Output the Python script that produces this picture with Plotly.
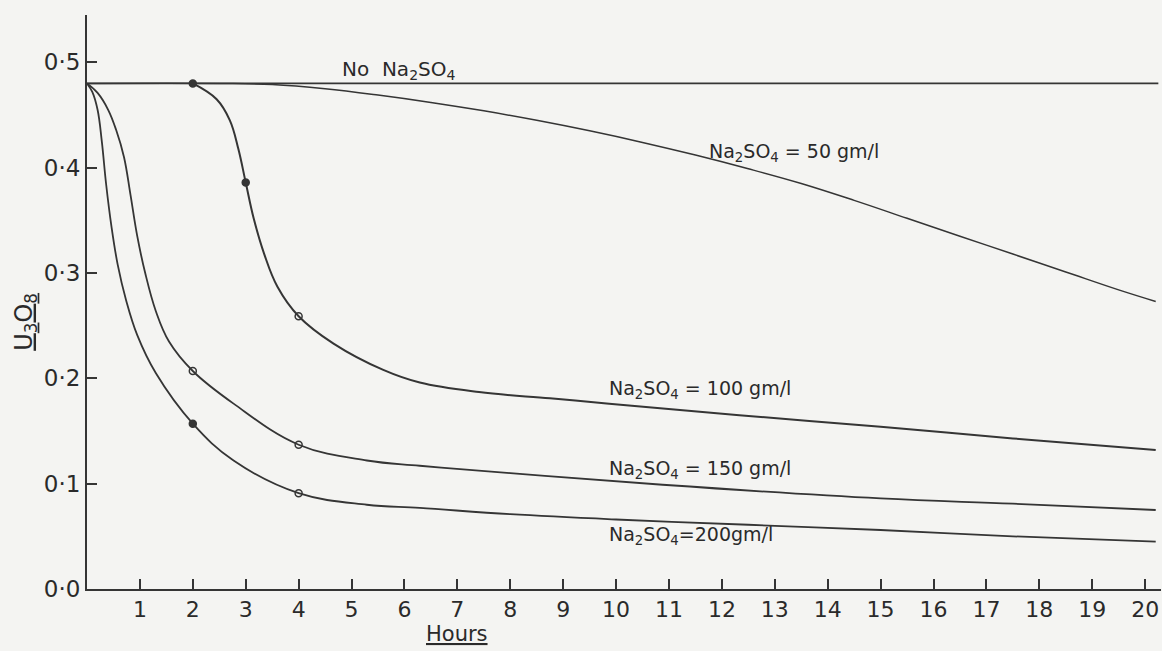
import plotly.graph_objects as go

# ---- data ----
hours_none = [0, 20.25]
u3o8_none = [0.48, 0.48]

hours_50 = [0, 2.5, 3.5, 4.5, 5.5, 6.5, 7.5, 8.5, 9.5, 10.5, 11.5, 12.5, 13.5, 14.5, 15.5, 16.5, 17.5, 18.5, 19.5, 20.2]
u3o8_50 = [0.48, 0.48, 0.479, 0.475, 0.469, 0.462, 0.454, 0.445, 0.435, 0.424, 0.412, 0.399, 0.385, 0.369, 0.352, 0.335, 0.318, 0.301, 0.284, 0.273]

hours_100 = [2, 2.45, 2.7, 2.86, 3.0, 3.15, 3.35, 3.6, 4.0, 4.66, 5.6, 6.29, 7.41, 8.75, 9.87, 12.33, 15, 17.5, 20.2]
u3o8_100 = [0.48, 0.465, 0.445, 0.418, 0.386, 0.352, 0.318, 0.287, 0.259, 0.233, 0.208, 0.196, 0.187, 0.181, 0.176, 0.165, 0.154, 0.143, 0.132]

hours_150 = [0, 0.2, 0.4, 0.55, 0.7, 0.82, 0.95, 1.1, 1.3, 1.55, 2.0, 2.77, 4.0, 5.29, 6.29, 8, 10.88, 15, 17.5, 20.2]
u3o8_150 = [0.48, 0.471, 0.455, 0.436, 0.410, 0.375, 0.335, 0.300, 0.264, 0.235, 0.207, 0.176, 0.137, 0.122, 0.117, 0.110, 0.099, 0.086, 0.081, 0.075]

hours_200 = [0, 0.1, 0.2, 0.28, 0.36, 0.46, 0.58, 0.74, 0.95, 1.3, 2.0, 2.77, 4.0, 5.29, 6.29, 8, 10, 12.5, 15, 17.5, 20.2]
u3o8_200 = [0.48, 0.472, 0.455, 0.425, 0.385, 0.345, 0.308, 0.274, 0.241, 0.205, 0.157, 0.122, 0.091, 0.080, 0.077, 0.071, 0.066, 0.061, 0.056, 0.050, 0.045]

# measured points
pts_100_x = [2, 3, 4]
pts_100_y = [0.48, 0.386, 0.259]
pts_100_filled = [True, True, False]
pts_150_x = [2, 4]
pts_150_y = [0.207, 0.137]
pts_150_filled = [False, False]
pts_200_x = [2, 4]
pts_200_y = [0.157, 0.091]
pts_200_filled = [True, False]

x_tick_vals = list(range(1, 21))
x_tick_text = [str(v) for v in x_tick_vals]
y_tick_vals = [0.0, 0.1, 0.2, 0.3, 0.4, 0.5]
y_tick_text = ["0·0", "0·1", "0·2", "0·3", "0·4", "0·5"]

labels = [
    ("No  Na<sub>2</sub>SO<sub>4</sub>", 4.78, 0.493, 20),
    ("Na<sub>2</sub>SO<sub>4</sub> = 50 gm/l", 11.72, 0.414, 19),
    ("Na<sub>2</sub>SO<sub>4</sub> = 100 gm/l", 9.83, 0.189, 19),
    ("Na<sub>2</sub>SO<sub>4</sub> = 150 gm/l", 9.83, 0.113, 19),
    ("Na<sub>2</sub>SO<sub>4</sub>=200gm/l", 9.83, 0.051, 19),
]

INK = "#353535"
TXT = "#2a2a2a"
BG = "#f4f4f2"
FONT = "DejaVu Sans"

fig = go.Figure()

curves = [
    (hours_none, u3o8_none, 1.8),
    (hours_50, u3o8_50, 1.5),
    (hours_100, u3o8_100, 2.0),
    (hours_150, u3o8_150, 1.8),
    (hours_200, u3o8_200, 1.8),
]
for xs, ys, w in curves:
    fig.add_trace(go.Scatter(x=xs, y=ys, mode="lines",
                             line=dict(color=INK, width=w, shape="spline", smoothing=1.1),
                             showlegend=False, hoverinfo="skip"))

for xs, ys, filled in [(pts_100_x, pts_100_y, pts_100_filled),
                       (pts_150_x, pts_150_y, pts_150_filled),
                       (pts_200_x, pts_200_y, pts_200_filled)]:
    fig.add_trace(go.Scatter(
        x=xs, y=ys, mode="markers", showlegend=False, hoverinfo="skip",
        marker=dict(size=7, symbol=["circle" if f else "circle-open" for f in filled],
                    color=INK, line=dict(color=INK, width=1.5))))

for text, x, y, sz in labels:
    fig.add_annotation(x=x, y=y, text=text, showarrow=False, xanchor="left", yanchor="middle",
                       font=dict(family=FONT, size=sz, color=TXT))

fig.add_annotation(xref="paper", yref="paper", x=-0.058, y=0.465,
                   text="<u>U<sub>3</sub>O<sub>8</sub></u>", textangle=-90, showarrow=False,
                   xanchor="center", yanchor="middle",
                   font=dict(family=FONT, size=24, color=TXT))
fig.add_annotation(xref="x", yref="paper", x=7.0, y=-0.078,
                   text="<u>Hours</u>", showarrow=False,
                   xanchor="center", yanchor="middle",
                   font=dict(family=FONT, size=21, color=TXT))

fig.update_xaxes(range=[0, 20.3], tickvals=x_tick_vals, ticktext=x_tick_text,
                 showgrid=False, zeroline=False, showline=True, linecolor=INK, linewidth=2,
                 ticks="inside", ticklen=10, tickwidth=1.6, tickcolor=INK,
                 tickfont=dict(family=FONT, size=22, color=TXT))
fig.update_yaxes(range=[0, 0.545], tickvals=y_tick_vals, ticktext=y_tick_text,
                 showgrid=False, zeroline=False, showline=True, linecolor=INK, linewidth=2,
                 ticks="inside", ticklen=10, tickwidth=1.6, tickcolor=INK,
                 tickfont=dict(family=FONT, size=23, color=TXT))

fig.update_layout(width=1162, height=651, paper_bgcolor=BG, plot_bgcolor=BG,
                  margin=dict(l=87, r=1, t=15, b=62), showlegend=False)

fig.write_html("out.html", config={"displayModeBar": False},
               post_script="document.body.style.margin='0px';document.body.style.background='#f4f4f2';")
